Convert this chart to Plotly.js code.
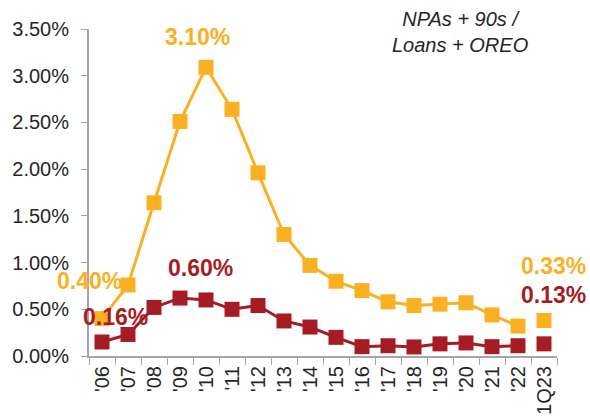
<!DOCTYPE html>
<html>
<head>
<meta charset="utf-8">
<script src="https://cdn.plot.ly/plotly-3.0.1.min.js"></script>
<style>
  html, body { margin: 0; padding: 0; background: #fff; }
  #graph { width: 590px; height: 418px; }
</style>
</head>
<body>
<div id="graph"></div>
<script>
// yearly categories, then the latest quarter (drawn on its own, not joined)
var years = ["'06", "'07", "'08", "'09", "'10", "'11", "'12", "'13", "'14", "'15", "'16", "'17", "'18", "'19", "'20", "'21", "'22"];
var quarter = ["1Q23"];

// NPAs + 90s / Loans + OREO, in percent
var bankValues = [0.40, 0.76, 1.64, 2.51, 3.09, 2.64, 1.96, 1.30, 0.97, 0.80, 0.70, 0.58, 0.54, 0.555, 0.57, 0.44, 0.32];
var bankQuarter = [0.38];
var peerValues = [0.15, 0.23, 0.52, 0.62, 0.60, 0.50, 0.54, 0.375, 0.31, 0.20, 0.10, 0.11, 0.097, 0.13, 0.14, 0.10, 0.11];
var peerQuarter = [0.13];

var labelText = ['3.10%', '0.40%', '0.16%', '0.60%', '0.33%', '0.13%'];

var yellow = '#F9B023';
var red = '#A61C24';
var font = 'Liberation Sans, Arial, sans-serif';

function lineTrace(x, y, color) {
    return {
        type: 'scatter',
        mode: 'lines+markers',
        x: x,
        y: y,
        line: {color: color, width: 3},
        marker: {symbol: 'square', size: 15, color: color},
        hoverinfo: 'skip'
    };
}

function pointTrace(x, y, color) {
    return {
        type: 'scatter',
        mode: 'markers',
        x: x,
        y: y,
        marker: {symbol: 'square', size: 15, color: color},
        hoverinfo: 'skip'
    };
}

var traces = [
    lineTrace(years, bankValues, yellow),
    pointTrace(quarter, bankQuarter, yellow),
    lineTrace(years, peerValues, red),
    pointTrace(quarter, peerQuarter, red)
];

function label(text, x, y, color, dx, dy) {
    return {
        text: '<b>' + text + '</b>',
        x: x, y: y, xref: 'x', yref: 'y',
        showarrow: false,
        xshift: dx, yshift: dy,
        font: {family: font, size: 23, color: color}
    };
}

var annotations = [
    label(labelText[0], years[4], bankValues[4], yellow, -9, 30),
    label(labelText[1], years[0], bankValues[0], yellow, -13, 38),
    label(labelText[2], years[0], peerValues[0], red, 13, 25),
    label(labelText[3], years[3], peerValues[3], red, 20, 30),
    label(labelText[4], quarter[0], bankQuarter[0], yellow, 9, 55),
    label(labelText[5], quarter[0], peerQuarter[0], red, 9, 49),
    {
        text: '<i>NPAs + 90s /<br>Loans + OREO</i>',
        xref: 'paper', yref: 'paper',
        x: (460 - 89) / 468, xanchor: 'center',
        y: 1.07, yanchor: 'top',
        showarrow: false,
        font: {family: font, size: 20, color: '#262626'}
    }
];

var layout = {
    width: 590,
    height: 418,
    margin: {l: 89, r: 33, t: 29, b: 62},
    paper_bgcolor: '#fff',
    plot_bgcolor: '#fff',
    showlegend: false,
    font: {family: font, size: 20, color: '#262626'},
    xaxis: {
        type: 'category',
        categoryorder: 'array',
        categoryarray: years.concat(quarter),
        tickangle: -90,
        tickson: 'boundaries',
        ticks: 'outside',
        ticklen: 7,
        tickcolor: '#a6a6a6',
        showline: true,
        linecolor: '#a6a6a6',
        linewidth: 2,
        showgrid: false,
        zeroline: false,
        range: [-0.5, 17.5],
        tickfont: {family: font, size: 20, color: '#262626'}
    },
    yaxis: {
        range: [0, 3.5],
        dtick: 0.5,
        tickformat: '.2f',
        ticksuffix: '%',
        ticks: 'outside',
        ticklen: 6,
        tickcolor: '#a6a6a6',
        showline: true,
        linecolor: '#a6a6a6',
        linewidth: 2,
        showgrid: false,
        zeroline: false,
        ticklabelstandoff: 8,
        tickfont: {family: font, size: 20, color: '#262626'}
    },
    annotations: annotations
};

Plotly.newPlot(document.getElementById('graph'), traces, layout, {displayModeBar: false, staticPlot: true});
</script>
</body>
</html>
